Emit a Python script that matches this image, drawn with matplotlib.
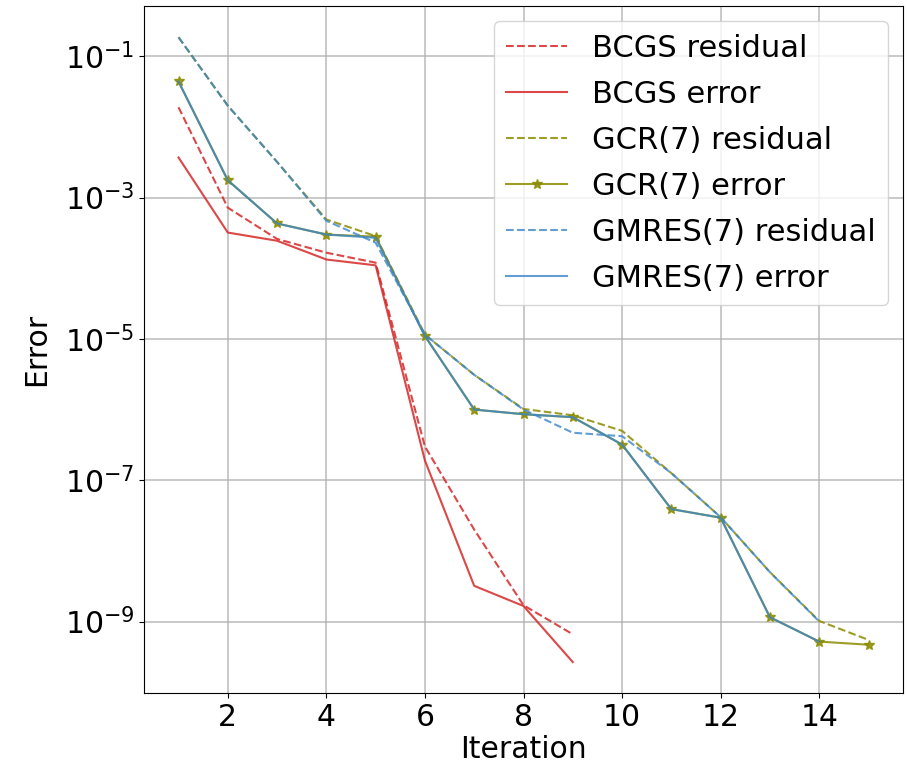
import matplotlib
matplotlib.use("Agg")
import matplotlib.pyplot as plt
import numpy as np

bcgs_iter = [1, 2, 3, 4, 5, 6, 7, 8, 9]
bcgs_residual = [1.9e-2, 7.2e-4, 2.6e-4, 1.66e-4, 1.2e-4, 3.0e-7, 2.0e-8, 1.7e-9, 6.6e-10]
bcgs_error = [3.7e-3, 3.2e-4, 2.45e-4, 1.33e-4, 1.1e-4, 1.9e-7, 3.2e-9, 1.66e-9, 2.67e-10]

gcr_iter = [1, 2, 3, 4, 5, 6, 7, 8, 9, 10, 11, 12, 13, 14, 15]
gcr_residual = [1.86e-1, 2.0e-2, 3.2e-3, 4.9e-4, 2.85e-4, 1.15e-5, 3.1e-6, 1.02e-6, 8.3e-7, 5.0e-7,
                1.26e-7, 3.0e-8, 5.0e-9, 1.02e-9, 5.5e-10]
gcr_error = [4.4e-2, 1.76e-3, 4.3e-4, 3.0e-4, 2.8e-4, 1.1e-5, 1.0e-6, 8.6e-7, 7.8e-7, 3.2e-7,
             3.9e-8, 2.95e-8, 1.15e-9, 5.2e-10, 4.7e-10]

gmres_iter = [1, 2, 3, 4, 5, 6, 7, 8, 9, 10, 11, 12, 13, 14]
gmres_residual = [1.86e-1, 2.0e-2, 3.2e-3, 4.7e-4, 2.3e-4, 1.15e-5, 3.1e-6, 1.0e-6, 4.7e-7, 4.2e-7,
                  1.26e-7, 3.0e-8, 5.0e-9, 1.0e-9]
gmres_error = [4.4e-2, 1.76e-3, 4.3e-4, 3.0e-4, 2.7e-4, 1.1e-5, 1.0e-6, 8.6e-7, 7.8e-7, 3.2e-7,
               3.9e-8, 2.95e-8, 1.15e-9, 5.2e-10]

fig = plt.figure(figsize=(9.07, 7.66), dpi=100)
ax = fig.add_axes([144/907, 1-693.3/766, (903-144)/907, (693.3-6)/766])

red = '#d62728'
olive = '#8c8c00'
blue = '#3a86c8'
ax.semilogy(bcgs_iter, bcgs_residual, '--', color=red, alpha=0.85, lw=1.5, label='BCGS residual')
ax.semilogy(bcgs_iter, bcgs_error, '-', color=red, alpha=0.85, lw=1.5, label='BCGS error')
ax.semilogy(gcr_iter, gcr_residual, '--', color=olive, alpha=0.85, lw=1.5, label='GCR(7) residual')
ax.semilogy(gcr_iter, gcr_error, '-', color=olive, alpha=0.85, lw=1.5, marker='*', markersize=7,
            label='GCR(7) error')
ax.semilogy(gmres_iter, gmres_residual, '--', color=blue, alpha=0.8, lw=1.5, label='GMRES(7) residual')
ax.semilogy(gmres_iter, gmres_error, '-', color=blue, alpha=0.8, lw=1.5, label='GMRES(7) error')

ax.set_yticks([1e-1, 1e-3, 1e-5, 1e-7, 1e-9])
ax.minorticks_off()
ax.set_xticks([2, 4, 6, 8, 10, 12, 14])
ax.grid(True, color='#b0b0b0', lw=1.2, alpha=0.8)
ax.tick_params(labelsize=21.5)
ax.set_xlabel('Iteration', fontsize=21.5, labelpad=2)
ax.set_ylabel('Error', fontsize=21.5, labelpad=10)
ax.legend(fontsize=22, loc='upper right', labelspacing=0.56)

fig.savefig('out.png', dpi=100)
